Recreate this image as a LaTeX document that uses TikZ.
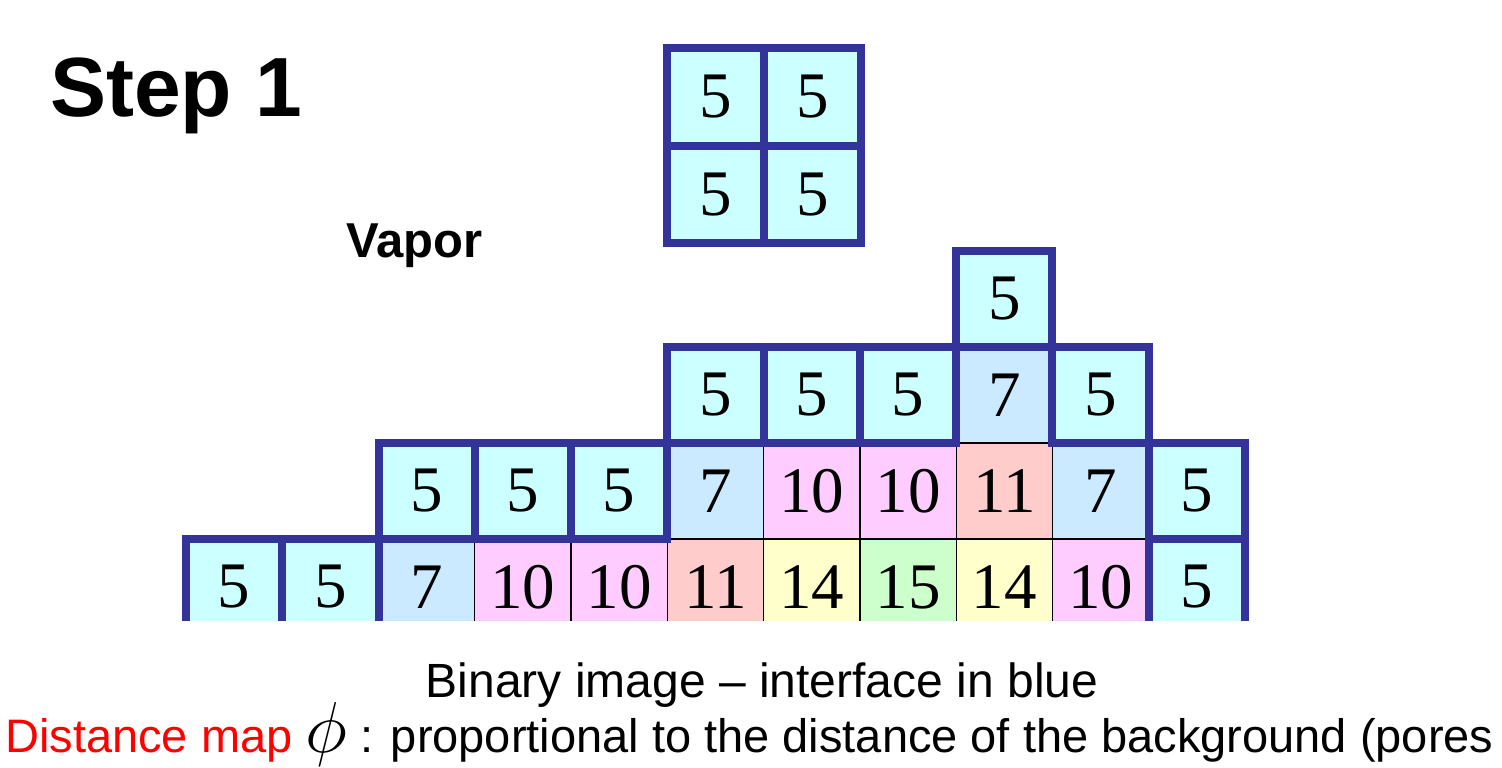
\documentclass[tikz,border=0pt]{standalone}
\usepackage{fontspec}
\usepackage{graphicx}
\setmainfont{Liberation Sans}
\newfontfamily\tnr{Liberation Serif}
\definecolor{cfive}{HTML}{CCFFFF}
\definecolor{cseven}{HTML}{CCEAFF}
\definecolor{cten}{HTML}{FFCCFF}
\definecolor{celeven}{HTML}{FFCCCC}
\definecolor{cfourteen}{HTML}{FFFFCC}
\definecolor{cfifteen}{HTML}{CCFFCC}
\definecolor{ifblue}{HTML}{333399}
\definecolor{redtxt}{HTML}{FF0000}
\begin{document}
\begin{tikzpicture}[x=1pt,y=-1pt,
  cell/.style={draw=black, line width=1.3pt, minimum width=96.27pt, minimum height=96.27pt,
    inner sep=0pt, outer sep=0pt, font=\tnr\fontsize{65}{65}\selectfont},
  topcell/.style={cell, minimum width=97pt, minimum height=97.5pt},
  iface/.style={draw=ifblue, line width=8pt, line join=miter},
  title/.style={font=\bfseries\fontsize{84}{84}\selectfont, inner sep=0pt},
  label/.style={font=\bfseries\fontsize{49}{49}\selectfont, inner sep=0pt},
  caption/.style={font=\fontsize{48}{48}\selectfont, inner sep=0pt},
  captionb/.style={font=\fontsize{47}{47}\selectfont, inner sep=0pt}]
\useasboundingbox (0,0) rectangle (1502,768);
\fill[white] (0,0) rectangle (1502,768);

\begin{scope}
\clip (0,0) rectangle (1502,620);
% row 0
\foreach \c/\v/\col in {0/5/cfive,1/5/cfive,2/7/cseven,3/10/cten,4/10/cten,5/11/celeven,6/14/cfourteen,7/15/cfifteen,8/14/cfourteen,9/10/cten,10/5/cfive}
  \node[cell, fill=\col] (r0c\c) at ({186+96.27*(\c+0.5)}, 587) {\v};
% row 1
\foreach \c/\v/\col in {2/5/cfive,3/5/cfive,4/5/cfive,5/7/cseven,6/10/cten,7/10/cten,8/11/celeven,9/7/cseven,10/5/cfive}
  \node[cell, fill=\col] (r1c\c) at ({186+96.27*(\c+0.5)}, 491) {\v};
% row 2
\foreach \c/\v/\col in {5/5/cfive,6/5/cfive,7/5/cfive,8/7/cseven,9/5/cfive}
  \node[cell, fill=\col] (r2c\c) at ({186+96.27*(\c+0.5)}, 395) {\v};
% row 3
\node[cell, fill=cfive] (r3c8) at ({186+96.27*8.5}, 299) {5};
% interface outlines
\foreach \n in {r0c0,r0c1,r0c10,r1c2,r1c3,r1c4,r1c10,r2c5,r2c6,r2c7,r2c9,r3c8}
  \draw[iface] (\n.south west) rectangle (\n.north east);
\end{scope}

% separate 2x2 block
\node[topcell, fill=cfive] (ta) at (715.5, 97) {5};
\node[topcell, fill=cfive] (tb) at (812.5, 97) {5};
\node[topcell, fill=cfive] (tc) at (715.5, 194.5) {5};
\node[topcell, fill=cfive] (td) at (812.5, 194.5) {5};
\foreach \n in {ta,tb,tc,td}
  \draw[iface] (\n.south west) rectangle (\n.north east);

% texts
\node[title, anchor=base west] (step) at (50,117) {Step 1};
\node[label, anchor=base west] (vapor) at (346,257) {Vapor};
\node[caption, anchor=base] (cap1) at (762,697) {Binary image -- interface in blue};
\node[captionb, anchor=base west] (cap2) at (5,752) {\textcolor{redtxt}{Distance map} \raisebox{-0.5pt}{\scalebox{2.9}{$\phi$}} : proportional to the distance of the background (pores};
\end{tikzpicture}
\end{document}
